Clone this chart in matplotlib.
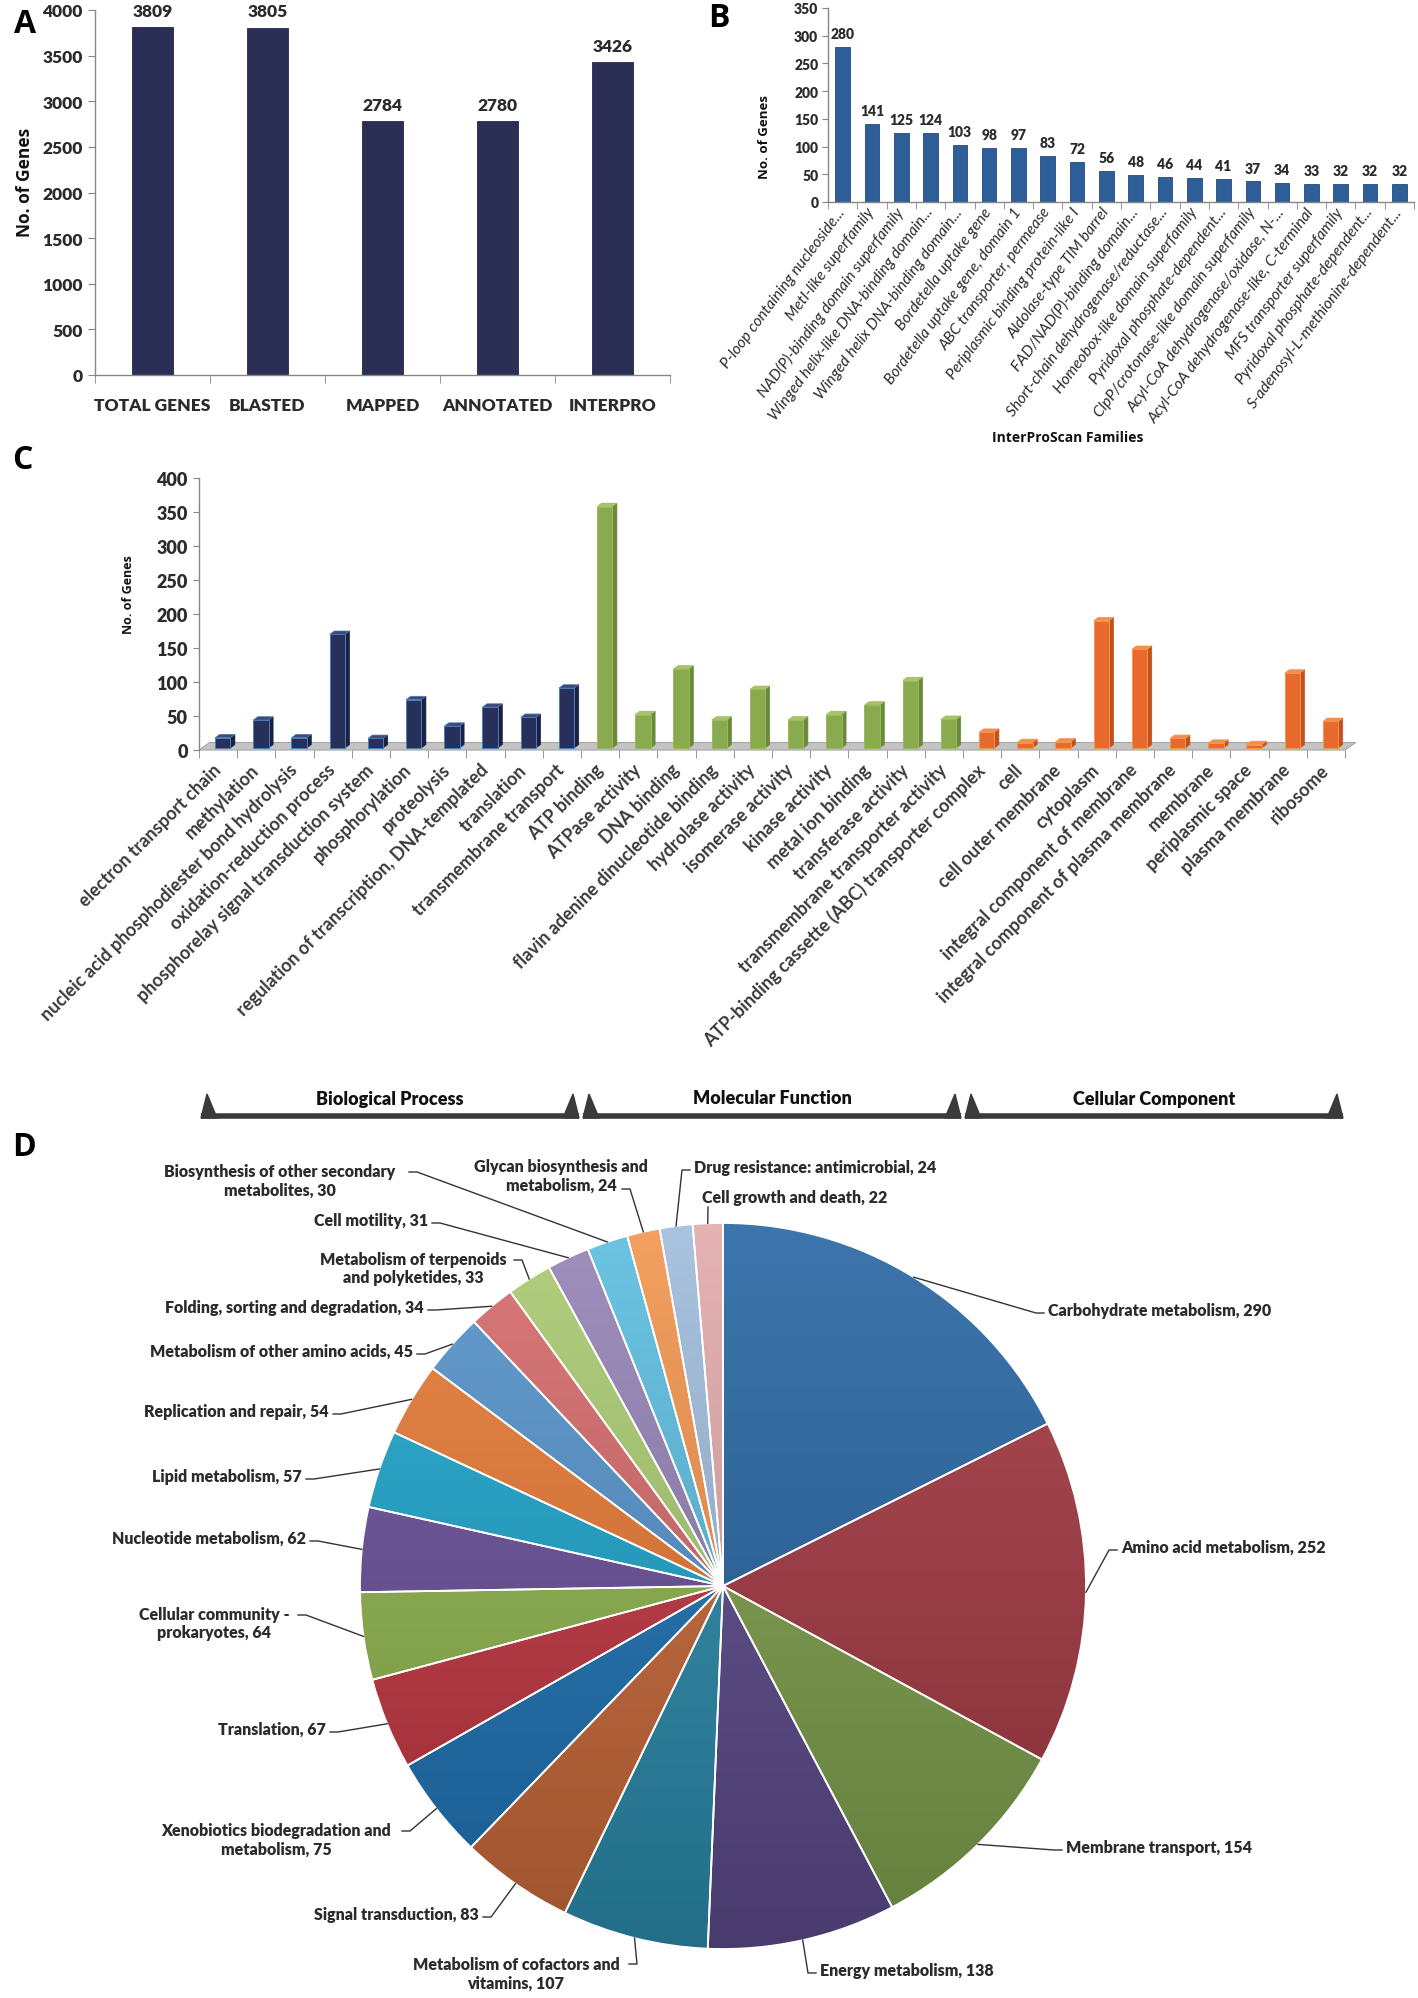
import numpy as np
import matplotlib
matplotlib.use("Agg")
import matplotlib.pyplot as plt
from matplotlib.patches import Polygon
from matplotlib import font_manager
from matplotlib.colors import to_rgb

# --- fonts -------------------------------------------------------------------
_names = {f.name for f in font_manager.fontManager.ttflist}
SANS = "Open Sans" if "Open Sans" in _names else "DejaVu Sans"
BOLD = "Lato" if "Lato" in _names else SANS
HEAVY = "heavy"

# --- data --------------------------------------------------------------------
# A: annotation summary
cats_a = ["TOTAL GENES", "BLASTED", "MAPPED", "ANNOTATED", "INTERPRO"]
vals_a = [3809, 3805, 2784, 2780, 3426]

# B: InterProScan families
cats_b = ["P-loop containing nucleoside...", "MetI-like superfamily",
          "NAD(P)-binding domain superfamily", "Winged helix-like DNA-binding domain...",
          "Winged helix DNA-binding domain...", "Bordetella uptake gene",
          "Bordetella uptake gene, domain 1", "ABC transporter, permease",
          "Periplasmic binding protein-like I", "Aldolase-type TIM barrel",
          "FAD/NAD(P)-binding domain...", "Short-chain dehydrogenase/reductase...",
          "Homeobox-like domain superfamily", "Pyridoxal phosphate-dependent...",
          "ClpP/crotonase-like domain superfamily", "Acyl-CoA dehydrogenase/oxidase, N-...",
          "Acyl-CoA dehydrogenase-like, C-terminal", "MFS transporter superfamily",
          "Pyridoxal phosphate-dependent...", "S-adenosyl-L-methionine-dependent..."]
vals_b = [280, 141, 125, 124, 103, 98, 97, 83, 72, 56, 48, 46, 44, 41, 37, 34, 33, 32, 32, 32]

# C: GO terms
cats_bp = ["electron transport chain", "methylation", "nucleic acid phosphodiester bond hydrolysis",
           "oxidation-reduction process", "phosphorelay signal transduction system",
           "phosphorylation", "proteolysis", "regulation of transcription, DNA-templated",
           "translation", "transmembrane transport"]
vals_bp = [18, 44, 18, 170, 17, 74, 35, 63, 48, 91]
cats_mf = ["ATP binding", "ATPase activity", "DNA binding", "flavin adenine dinucleotide binding",
           "hydrolase activity", "isomerase activity", "kinase activity", "metal ion binding",
           "transferase activity", "transmembrane transporter activity"]
vals_mf = [358, 52, 119, 44, 89, 44, 52, 66, 102, 45]
cats_cc = ["ATP-binding cassette (ABC) transporter complex", "cell", "cell outer membrane",
           "cytoplasm", "integral component of membrane", "integral component of plasma membrane",
           "membrane", "periplasmic space", "plasma membrane", "ribosome"]
vals_cc = [26, 11, 12, 190, 148, 17, 10, 8, 113, 42]
groups_c = ["Biological Process", "Molecular Function", "Cellular Component"]

# D: KEGG pathways
cats_d = ["Carbohydrate metabolism", "Amino acid metabolism", "Membrane transport",
          "Energy metabolism", "Metabolism of cofactors and\nvitamins", "Signal transduction",
          "Xenobiotics biodegradation and\nmetabolism", "Translation",
          "Cellular community -\nprokaryotes", "Nucleotide metabolism", "Lipid metabolism",
          "Replication and repair", "Metabolism of other amino acids",
          "Folding, sorting and degradation", "Metabolism of terpenoids\nand polyketides",
          "Cell motility", "Biosynthesis of other secondary\nmetabolites",
          "Glycan biosynthesis and\nmetabolism", "Drug resistance: antimicrobial",
          "Cell growth and death"]
vals_d = [290, 252, 154, 138, 107, 83, 75, 67, 64, 62, 57, 54, 45, 34, 33, 31, 30, 24, 24, 22]
colors_d = ["#2766A3", "#A43943", "#7E9F4C", "#5C4A8A", "#2B8AAB", "#C8693A", "#1E73B5",
            "#C23742", "#8FB54E", "#6A509A", "#1DA5CC", "#E77A35", "#5593CB", "#D66A6B",
            "#AACB72", "#9483B6", "#5CBDE0", "#F2954E", "#9FBCDC", "#E2AAAA"]

# --- figure --------------------------------------------------------------------
W, H = 1418, 1999
fig = plt.figure(figsize=(W / 100, H / 100), dpi=100)
fig.patch.set_facecolor("white")


def box(left, top, right, bottom):
    return [left / W, 1 - bottom / H, (right - left) / W, (bottom - top) / H]


def Y(y):
    return H - y


TXT = "#2b2b2b"
GRID = "#868686"

ov = fig.add_axes([0, 0, 1, 1])
ov.set_xlim(0, W)
ov.set_ylim(0, H)
ov.axis("off")


def style_axes(ax):
    for s in ["top", "right"]:
        ax.spines[s].set_visible(False)
    for s in ["left", "bottom"]:
        ax.spines[s].set_color(GRID)
        ax.spines[s].set_linewidth(1.0)


def style_labels(labels, size, weight=HEAVY, style="normal", color=TXT):
    for lab in labels:
        lab.set_fontfamily(BOLD)
        lab.set_fontweight(weight)
        lab.set_fontstyle(style)
        lab.set_fontsize(size)
        lab.set_color(color)


# --- panel A -------------------------------------------------------------------
axA = fig.add_axes(box(95, 11, 670, 376))
xa = np.arange(len(cats_a))
axA.bar(xa, vals_a, width=0.35, color="#2B2F55", edgecolor="#23264a", linewidth=0.6)
for i, v in enumerate(vals_a):
    axA.annotate(str(v), (i, v), xytext=(0, 6), textcoords="offset points", ha="center",
                 va="bottom", fontsize=12.5, fontweight=HEAVY, family=BOLD, color=TXT)
axA.set_xlim(-0.5, len(cats_a) - 0.5)
axA.set_ylim(0, 4000)
axA.set_yticks(np.arange(0, 4001, 500))
axA.set_xticks(xa)
axA.set_xticklabels(cats_a)
axA.set_xticks(np.arange(-0.5, len(cats_a), 1), minor=True)
axA.tick_params(axis="x", which="major", length=0, pad=16)
axA.tick_params(axis="x", which="minor", length=6, color=GRID)
axA.tick_params(axis="y", length=5, color=GRID, pad=4)
style_labels(axA.get_xticklabels() + axA.get_yticklabels(), 12.5)
style_axes(axA)
ov.text(25, Y(182), "No. of Genes", rotation=90, ha="center", va="center",
        fontsize=12.5, fontweight="bold", family=SANS, color="#111111")

# --- panel B -------------------------------------------------------------------
axB = fig.add_axes(box(828, 9, 1414, 203))
xb = np.arange(len(cats_b))
axB.bar(xb, vals_b, width=0.5, color="#2E5E98", edgecolor="#24497a", linewidth=0.6)
for i, v in enumerate(vals_b):
    axB.annotate(str(v), (i, v), xytext=(0, 5), textcoords="offset points", ha="center",
                 va="bottom", fontsize=10, fontweight=HEAVY, family=BOLD, color=TXT)
axB.set_xlim(-0.5, len(cats_b) - 0.5)
axB.set_ylim(0, 350)
axB.set_yticks(np.arange(0, 351, 50))
axB.set_xticks(xb)
axB.set_xticklabels(cats_b, rotation=53, ha="right", va="center", rotation_mode="anchor")
axB.set_xticks(np.arange(-0.5, len(cats_b), 1), minor=True)
axB.tick_params(axis="x", which="major", length=0, pad=5)
axB.tick_params(axis="x", which="minor", length=5, color=GRID)
axB.tick_params(axis="y", length=4, color=GRID, pad=3)
style_labels(axB.get_xticklabels(), 11.2, weight="normal", style="italic")
style_labels(axB.get_yticklabels(), 10)
style_axes(axB)
ov.text(765, Y(137), "No. of Genes", rotation=90, ha="center", va="center",
        fontsize=9.5, fontweight="bold", family=SANS, color="#111111")
ov.text(1068, Y(438), "InterProScan Families", ha="center", va="center",
        fontsize=10, fontweight="bold", family=SANS, color="#111111")

# --- panel C (pseudo-3D column chart) --------------------------------------------
axC = fig.add_axes(box(199, 479, 1345, 751))
cats_c = cats_bp + cats_mf + cats_cc
vals_c = np.array(vals_bp + vals_mf + vals_cc, dtype=float)
n_c = len(cats_c)
xc = np.arange(n_c)
palette_c = [("#27305A", "#1A2140", "#3C4A7A", "#4A7EBB"),
             ("#8AAA50", "#6A893A", "#A6C46C", "#9BBB59"),
             ("#E8692E", "#BF521F", "#F08C5C", "#F79646")]
sizes = [len(cats_bp), len(cats_mf), len(cats_cc)]
grp = np.repeat(np.arange(3), sizes)

FL, FW = -0.08, 0.40      # front face offset / width (category units)
DX, DY = 0.12, 5.0        # bar depth
BASE = 3.0
FX, FY = 0.28, 11.0       # floor depth

axC.add_patch(Polygon([(-0.5, 0), (n_c - 0.5, 0), (n_c - 0.5 + FX, FY), (-0.5 + FX, FY)],
                      closed=True, facecolor="#C4C4C4", edgecolor="#A5A5A5", lw=0.8,
                      clip_on=False, zorder=1))
for g in range(3):
    m = grp == g
    front, side, top, edge = palette_c[g]
    axC.bar(xc[m] + FL, vals_c[m] - BASE, width=FW, bottom=BASE, align="edge",
            color=front, edgecolor=edge, linewidth=0.7, zorder=3)
    for x0, v in zip(xc[m], vals_c[m]):
        xl, xr = x0 + FL, x0 + FL + FW
        axC.add_patch(Polygon([(xr, BASE), (xr + DX, BASE + DY), (xr + DX, v + DY), (xr, v)],
                              closed=True, facecolor=side, edgecolor=side, lw=0.5,
                              zorder=2, clip_on=False))
        axC.add_patch(Polygon([(xl, v), (xr, v), (xr + DX, v + DY), (xl + DX, v + DY)],
                              closed=True, facecolor=top, edgecolor=edge, lw=0.5,
                              zorder=4, clip_on=False))
axC.set_xlim(-0.5, n_c - 0.5)
axC.set_ylim(0, 400)
axC.set_yticks(np.arange(0, 401, 50))
axC.set_xticks(xc)
axC.set_xticklabels(cats_c, rotation=45, ha="right", va="center", rotation_mode="anchor")
axC.set_xticks(np.arange(-0.5, n_c, 1), minor=True)
axC.tick_params(axis="x", which="major", length=0, pad=12)
axC.tick_params(axis="x", which="minor", length=6, color=GRID)
axC.tick_params(axis="y", length=4, color=GRID, pad=4)
style_labels(axC.get_xticklabels(), 13, weight="bold", color="#3a3a3a")
style_labels(axC.get_yticklabels(), 13)
style_axes(axC)
axC.spines["bottom"].set_visible(False)
ov.text(128, Y(595), "No. of Genes", rotation=90, ha="center", va="center",
        fontsize=9, fontweight="bold", family=SANS, color="#111111")

# group brackets under panel C
cat_px = (1345 - 199) / n_c
edges = np.concatenate([[0], np.cumsum(sizes)])
for g in range(3):
    x0 = 199 + edges[g] * cat_px + 2
    x1 = 199 + edges[g + 1] * cat_px - 2
    yb = Y(1117)
    ov.plot([x0, x1], [yb, yb], color="#3A3A3A", lw=4, solid_capstyle="butt")
    ov.add_patch(Polygon([(x0, yb - 2), (x0 + 16, yb - 2), (x0 + 6, yb + 22)],
                         closed=True, color="#3A3A3A"))
    ov.add_patch(Polygon([(x1 - 16, yb - 2), (x1, yb - 2), (x1 - 6, yb + 22)],
                         closed=True, color="#3A3A3A"))
    ov.text((x0 + x1) / 2, Y(1099), groups_c[g], ha="center", va="center",
            fontsize=13, fontweight=HEAVY, family=BOLD, color="#111111")

# --- panel D (pie) ---------------------------------------------------------------
cx, cy, r = 723, Y(1587), 363
wedges, _ = ov.pie(vals_d, colors=colors_d, startangle=90, counterclock=False,
                   center=(cx, cy), radius=r, frame=True,
                   wedgeprops=dict(edgecolor="white", linewidth=1.3))
g = np.linspace(1, 0, 256)[:, None, None]
for w, col in zip(wedges, colors_d):
    rgb = np.array(to_rgb(col))
    light = rgb + (1 - rgb) * 0.10
    dark = rgb * 0.80
    img = light * g + dark * (1 - g)
    im = ov.imshow(img, extent=(cx - r, cx + r, cy - r, cy + r), origin="upper",
                   aspect="auto", zorder=1)
    im.set_clip_path(w)
    w.set_facecolor("none")
    w.set_zorder(2)

# label layout: text anchor (x, y), alignment, leader attach point, stub direction
label_layout = [
    (1048, 1311, "left", 1044, 1314, 1),
    (1121, 1548, "left", 1117, 1551, 1),
    (1066, 1848, "left", 1062, 1851, 1),
    (820, 1971, "left", 816, 1974, 1),
    (516, 1974, "center", 629, 1965, -1),
    (479, 1915, "right", 483, 1918, -1),
    (276, 1840, "center", 402, 1832, -1),
    (326, 1730, "right", 330, 1733, -1),
    (214, 1624, "center", 298, 1616, -1),
    (306, 1539, "right", 310, 1542, -1),
    (302, 1477, "right", 306, 1480, -1),
    (329, 1412, "right", 333, 1415, -1),
    (413, 1352, "right", 417, 1355, -1),
    (424, 1308, "right", 428, 1311, -1),
    (413, 1269, "center", 514, 1261, -1),
    (428, 1221, "right", 432, 1224, -1),
    (280, 1181, "center", 409, 1173, -1),
    (561, 1176, "center", 622, 1190, -1),
    (694, 1168, "left", 690, 1171, 1),
    (702, 1198, "left", 708, 1208, 0),
]
for w, name, v, lay in zip(wedges, cats_d, vals_d, label_layout):
    tx, ty, ha, lx, ly, d = lay
    ang = np.deg2rad((w.theta1 + w.theta2) / 2)
    rx, ry = cx + r * np.cos(ang), cy + r * np.sin(ang)
    if d == 0:
        xs, ys = [rx, lx], [ry, Y(ly)]
    else:
        xs, ys = [rx, lx - d * 8, lx], [ry, Y(ly), Y(ly)]
    ov.plot(xs, ys, color="#333333", lw=1.0, zorder=3)
    ov.text(tx, Y(ty), f"{name}, {v}", ha=ha, va="center", multialignment="center",
            fontsize=11.5, fontweight=HEAVY, family=BOLD, color=TXT, linespacing=1.2)

ov.set_xlim(0, W)
ov.set_ylim(0, H)
ov.set_aspect("auto")

# panel letters
for letter, (px, py) in zip("ABCD", [(14, 24), (708, 18), (12, 460), (12, 1148)]):
    ov.text(px, Y(py), letter, ha="left", va="center", fontsize=23, fontweight="bold",
            family=SANS, color="black")

fig.savefig("out.png", dpi=100, facecolor="white")
